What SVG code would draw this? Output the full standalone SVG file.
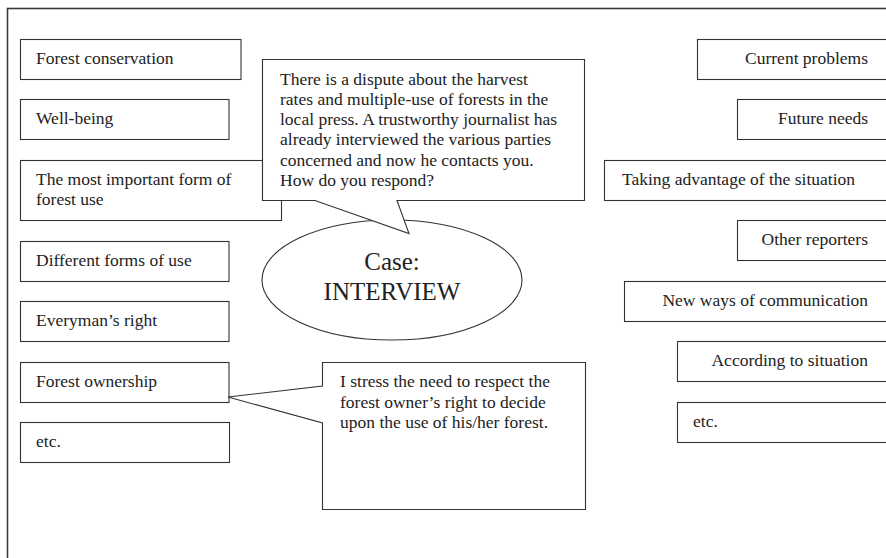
<svg xmlns="http://www.w3.org/2000/svg" width="886" height="558" viewBox="0 0 886 558">
<style>
.frame{fill:none;stroke:#3a3a3a;stroke-width:1.6}
.box{fill:#fff;stroke:#333;stroke-width:1.1}
.shape{fill:#fff;stroke:#333;stroke-width:1.1}
text{font-family:"Liberation Serif","Times New Roman",serif;font-size:17.5px;fill:#222}
.r{text-anchor:end}
.big{font-size:25px;text-anchor:middle}
</style>
<rect width="886" height="558" fill="#fff"/>
<rect class="frame" x="7.5" y="8.5" width="900" height="600"/>

<g id="left-nodes">
<g id="n-forest-conservation"><rect class="box" x="20.5" y="39.5" width="220.5" height="40"/><text x="36" y="63.5">Forest conservation</text></g>
<g id="n-well-being"><rect class="box" x="20.5" y="99.5" width="208.5" height="40"/><text x="36" y="123.5">Well-being</text></g>
<g id="n-most-important"><rect class="box" x="20.5" y="160.5" width="261" height="60"/><text x="36" y="184.5">The most important form of</text><text x="36" y="204.5">forest use</text></g>
<g id="n-different-forms"><rect class="box" x="20.5" y="241.5" width="208.5" height="40"/><text x="36" y="265.5">Different forms of use</text></g>
<g id="n-everyman"><rect class="box" x="20.5" y="301.5" width="208.5" height="40"/><text x="36" y="325.5">Everyman’s right</text></g>
<g id="n-forest-ownership"><rect class="box" x="20.5" y="362.5" width="208.5" height="40"/><text x="36" y="386.5">Forest ownership</text></g>
<g id="n-etc-left"><rect class="box" x="20.5" y="422.5" width="209" height="40"/><text x="36" y="446.5">etc.</text></g>
</g>

<g id="right-nodes">
<g id="n-current-problems"><rect class="box" x="697.5" y="39.5" width="190" height="40"/><text class="r" x="868" y="63.5">Current problems</text></g>
<g id="n-future-needs"><rect class="box" x="737.5" y="99.5" width="150" height="40"/><text class="r" x="868" y="123.5">Future needs</text></g>
<g id="n-taking-advantage"><rect class="box" x="604.5" y="160.5" width="283" height="40"/><text x="622" y="184.5">Taking advantage of the situation</text></g>
<g id="n-other-reporters"><rect class="box" x="737.5" y="220.5" width="150" height="40"/><text class="r" x="868" y="244.5">Other reporters</text></g>
<g id="n-new-ways"><rect class="box" x="624.5" y="281.5" width="263" height="40"/><text class="r" x="868" y="305.5">New ways of communication</text></g>
<g id="n-according"><rect class="box" x="677.5" y="341.5" width="210" height="40"/><text class="r" x="868" y="365.5">According to situation</text></g>
<g id="n-etc-right"><rect class="box" x="677.5" y="402.5" width="210" height="40"/><text x="693" y="426.5">etc.</text></g>
</g>

<g id="n-case">
<ellipse class="shape" cx="392" cy="280" rx="130" ry="60"/>
<text class="big" x="392" y="270">Case:</text>
<text class="big" x="392" y="300">INTERVIEW</text>
</g>

<g id="connectors">
<g id="callout-question">
<path class="shape" d="M262.5,59.5 H584.5 V200.5 H397 L409,233.5 L315,200.5 H262.5 Z"/>
<text x="280" y="84.5">There is a dispute about the harvest</text>
<text x="280" y="104.8">rates and multiple-use of forests in the</text>
<text x="280" y="125.1">local press. A trustworthy journalist has</text>
<text x="280" y="145.4">already interviewed the various parties</text>
<text x="280" y="165.7">concerned and now he contacts you.</text>
<text x="280" y="186">How do you respond?</text>
</g>
<g id="callout-answer">
<path class="shape" d="M322.5,362.5 H585.5 V509.5 H322.5 V423 L228,397 L322.5,386 Z"/>
<text x="340" y="387">I stress the need to respect the</text>
<text x="340" y="407.5">forest owner’s right to decide</text>
<text x="340" y="428">upon the use of his/her forest.</text>
</g>
</g>
</svg>
